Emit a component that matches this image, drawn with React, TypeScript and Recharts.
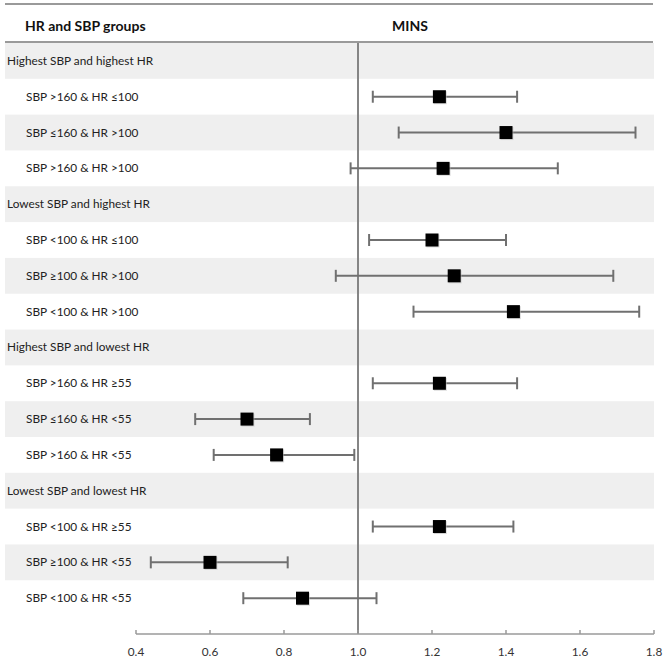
import React from "react";
import {
  ScatterChart,
  Scatter,
  XAxis,
  YAxis,
  ErrorBar,
  ReferenceArea,
  ReferenceLine,
} from "recharts";

// row labels, top to bottom (group headings have no estimate)
const labels: string[] = [
  "Highest SBP and highest HR",
  "SBP >160 & HR ≤100",
  "SBP ≤160 & HR >100",
  "SBP >160 & HR >100",
  "Lowest SBP and highest HR",
  "SBP <100 & HR ≤100",
  "SBP ≥100 & HR >100",
  "SBP <100 & HR >100",
  "Highest SBP and lowest HR",
  "SBP >160 & HR ≥55",
  "SBP ≤160 & HR <55",
  "SBP >160 & HR <55",
  "Lowest SBP and lowest HR",
  "SBP <100 & HR ≥55",
  "SBP ≥100 & HR <55",
  "SBP <100 & HR <55",
];

const estimates: (number | null)[] = [
  null, 1.22, 1.4, 1.23, null, 1.2, 1.26, 1.42, null, 1.22, 0.7, 0.78, null, 1.22, 0.6, 0.85,
];
const lower: (number | null)[] = [
  null, 1.04, 1.11, 0.98, null, 1.03, 0.94, 1.15, null, 1.04, 0.56, 0.61, null, 1.04, 0.44, 0.69,
];
const upper: (number | null)[] = [
  null, 1.43, 1.75, 1.54, null, 1.4, 1.69, 1.76, null, 1.43, 0.87, 0.99, null, 1.42, 0.81, 1.05,
];

const xTicks = [0.4, 0.6, 0.8, 1.0, 1.2, 1.4, 1.6, 1.8];

const FONT = "Lato, 'Open Sans', sans-serif";
const BAND = "#efefef";
const LINE = "#9a9a9a";

const points = estimates
  .map((est, i) =>
    est === null
      ? null
      : { x: est, y: i, err: [est - (lower[i] as number), (upper[i] as number) - est] }
  )
  .filter(Boolean) as { x: number; y: number; err: number[] }[];

const RowLabel = (props: any) => {
  const { y, payload } = props;
  const i = payload.value as number;
  const isGroup = estimates[i] === null;
  return (
    <text
      x={isGroup ? 7 : 26}
      y={y}
      dy={4}
      fontSize={11.8}
      fontFamily={FONT}
      fill="#222"
    >
      {labels[i]}
    </text>
  );
};

const XTick = (props: any) => {
  const { x, y, payload } = props;
  return (
    <g>
      <line x1={x} x2={x} y1={y - 4} y2={y} stroke={LINE} strokeWidth={1.5} />
      <text x={x} y={y + 22} textAnchor="middle" fontSize={11.8} fontFamily={FONT} fill="#333">
        {Number(payload.value).toFixed(1)}
      </text>
    </g>
  );
};

const Square = (props: any) => {
  const { cx, cy } = props;
  return (
    <g>
      <rect x={cx - 5.5} y={cy - 5.5} width={13} height={13} fill="#bbb" opacity={0.5} />
      <rect x={cx - 6.5} y={cy - 6.5} width={13} height={13} fill="#000" />
    </g>
  );
};

export default function App() {
  return (
    <div style={{ position: "absolute", left: 0, top: 0, width: 666, height: 665, background: "#fff" }}>
      {/* header lines and titles */}
      <div style={{ position: "absolute", left: 5, top: 3, width: 648, height: 2, background: LINE }} />
      <div style={{ position: "absolute", left: 5, top: 41, width: 648, height: 2, background: LINE }} />
      <div
        style={{
          position: "absolute",
          left: 25,
          top: 17,
          fontFamily: FONT,
          fontWeight: 700,
          fontSize: 14,
          color: "#111",
        }}
      >
        HR and SBP groups
      </div>
      <div
        style={{
          position: "absolute",
          left: 392,
          top: 17,
          fontFamily: FONT,
          fontWeight: 700,
          fontSize: 14,
          color: "#111",
        }}
      >
        MINS
      </div>

      <div style={{ position: "absolute", left: 0, top: 0 }}>
        <ScatterChart width={666} height={665} margin={{ top: 43, right: 12, left: 0, bottom: 0 }}>
          {/* alternating row bands, stretched under the label column */}
          {labels.map((_, i) =>
            i % 2 === 0 ? (
              <ReferenceArea
                key={`band-${i}`}
                y1={i - 0.5}
                y2={i + 0.5}
                x1={0.4}
                x2={1.8}
                ifOverflow="visible"
                shape={(p: any) => (
                  <rect x={5} y={p.y} width={p.x + p.width - 5} height={p.height} fill={BAND} />
                )}
              />
            ) : null
          )}
          <XAxis
            type="number"
            dataKey="x"
            domain={[0.4, 1.8]}
            ticks={xTicks}
            height={31}
            tickSize={0}
            tickMargin={0}
            tickLine={false}
            axisLine={{ stroke: LINE, strokeWidth: 1.5 }}
            tick={<XTick />}
            interval={0}
          />
          <YAxis
            type="number"
            dataKey="y"
            domain={[-0.5, 16]}
            reversed
            width={136}
            ticks={labels.map((_, i) => i)}
            interval={0}
            axisLine={false}
            tickLine={false}
            tick={<RowLabel />}
          />
          <ReferenceLine x={1} stroke="#858585" strokeWidth={2} />
          <Scatter data={points} shape={<Square />} isAnimationActive={false}>
            <ErrorBar dataKey="err" direction="x" width={6} stroke="#707070" strokeWidth={2} />
          </Scatter>
        </ScatterChart>
      </div>
    </div>
  );
}
